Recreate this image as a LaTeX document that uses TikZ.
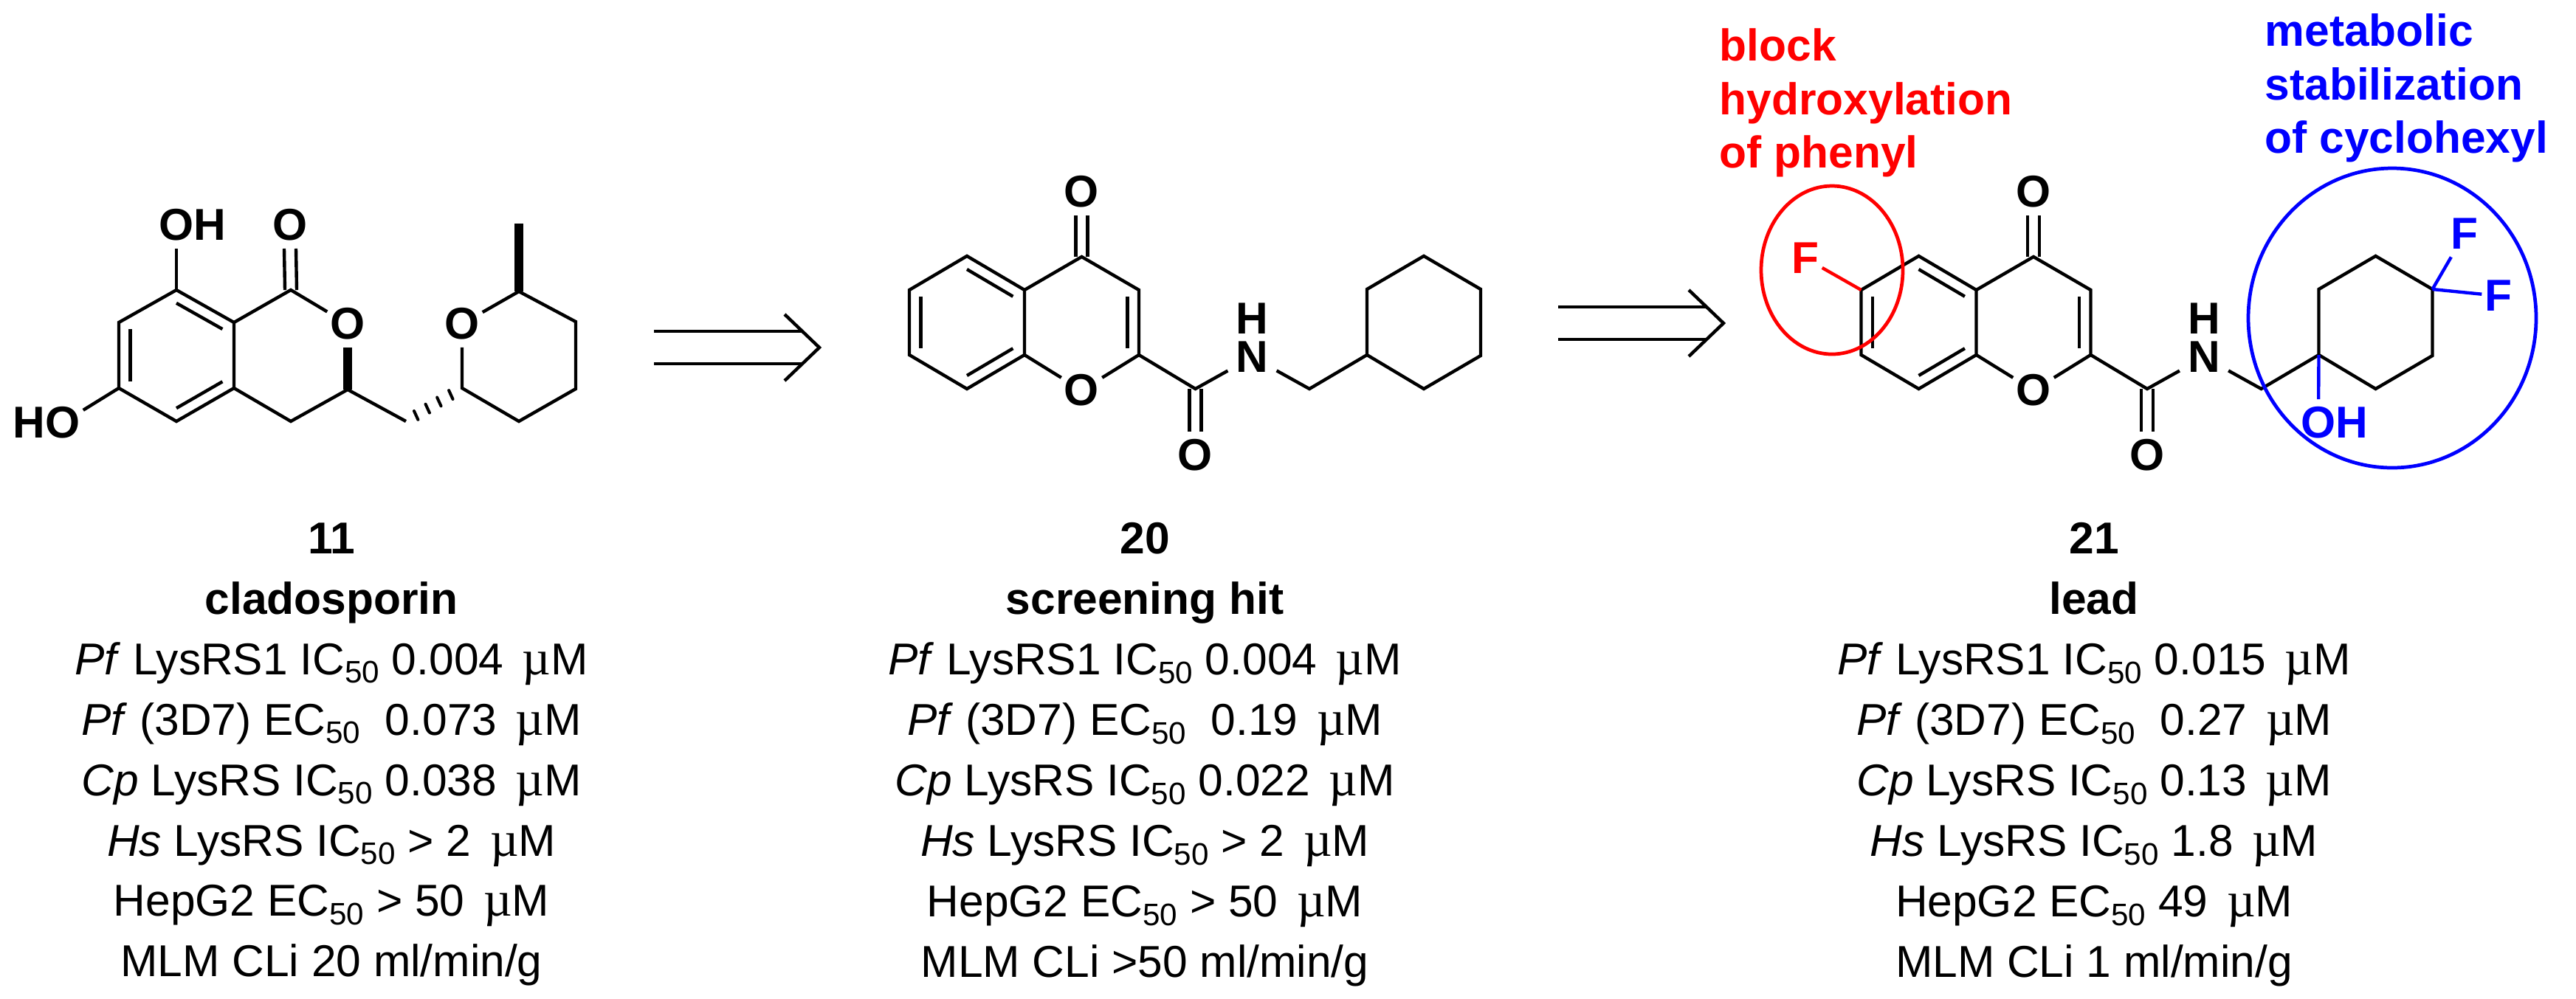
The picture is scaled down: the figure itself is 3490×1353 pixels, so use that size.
\documentclass[tikz,border=0pt]{standalone}
\usepackage{fontspec}
\setmainfont{Liberation Sans}
\newfontfamily\muserif{Liberation Serif}
\usetikzlibrary{calc}
\newcommand{\lowfifty}{\raisebox{-3.3pt}{\fontsize{12}{12}\selectfont 50}}
\newcommand{\muM}{\kern2.5pt{\muserif\fontsize{19}{19}\selectfont µ}M}
\newcommand{\innerbond}[3]{\draw[bond] ($(#1)!.2!(#3)$) -- ($(#2)!.2!(#3)$);}
\newcommand{\doublebond}[2]{
  \draw[bond] ($(#1)+(-8,0)$) -- ($(#2.south)+(-8,0)$);
  \draw[bond] ($(#1)+(8,0)$) -- ($(#2.south)+(8,0)$);
}
\newcommand{\doublebonddown}[2]{
  \draw[bond] ($(#1)+(-8,0)$) -- ($(#2.north)+(-8,0)$);
  \draw[bond] ($(#1)+(8,0)$) -- ($(#2.north)+(8,0)$);
}
\newcommand{\retroarrow}{
  \coordinate (tip) at (1110,471);
  \coordinate (headup) at (1063,426);
  \coordinate (headdown) at (1063,516);
  \coordinate (shaftup) at (886,449);
  \coordinate (shaftupend) at (1086,449);
  \coordinate (shaftdown) at (886,493);
  \coordinate (shaftdownend) at (1086,493);
  \draw[bond] (headup) -- (tip) -- (headdown);
  \draw[bond] (shaftup) -- (shaftupend);
  \draw[bond] (shaftdown) -- (shaftdownend);
}
\newcommand{\chromoneamide}{
  \coordinate (c5) at (1232,393);
  \coordinate (c6) at (1310,347);
  \coordinate (c4a) at (1388,393);
  \coordinate (c8a) at (1388,481);
  \coordinate (c8) at (1310,527);
  \coordinate (c7) at (1232,481);
  \coordinate (c4) at (1465.5,348);
  \coordinate (c3) at (1543,393);
  \coordinate (c2) at (1543,481);
  \coordinate (camide) at (1619.5,527);
  \coordinate (cmethyl) at (1774,527);
  \coordinate (chex1) at (1852,481);
  \coordinate (chex2) at (1852,392);
  \coordinate (chex3) at (1929,347);
  \coordinate (chex4) at (2006,392);
  \coordinate (chex5) at (2006,482);
  \coordinate (chex6) at (1929,527);
  \coordinate (benzc) at (1310,437);
  \coordinate (pyrc) at (1465.5,437);
  \node[atom] (oketo) at (1465.5,260) {O};
  \node[atom] (oring) at (1465.5,529) {O};
  \node[atom] (oamide) at (1619.5,617) {O};
  \node[atom,inner xsep=3pt] (namide) at (1696.5,484) {\smash{\rlap{\raisebox{14.8pt}{H}}}N};
  \draw[bond] (c5) -- (c6) -- (c4a) -- (c8a) -- (c8) -- (c7) -- cycle;
  \draw[bond] (c4a) -- (c4) -- (c3) -- (c2) -- (camide) -- (namide);
  \draw[bond] (c8a) -- (oring);
  \draw[bond] (c2) -- (oring);
  \draw[bond] (namide) -- (cmethyl) -- (chex1);
  \draw[bond] (chex1) -- (chex2) -- (chex3) -- (chex4) -- (chex5) -- (chex6) -- cycle;
  \innerbond{c6}{c4a}{benzc}
  \innerbond{c5}{c7}{benzc}
  \innerbond{c8a}{c8}{benzc}
  \innerbond{c3}{c2}{pyrc}
  \doublebond{c4}{oketo}
  \doublebonddown{camide}{oamide}
}
\tikzset{
  bond/.style={line width=1.25pt},
  boldbond/.style={line width=3.4pt},
  hashbond/.style={line width=1.15pt,line cap=round},
  atom/.style={font=\fontsize{17.2}{20}\selectfont\bfseries,inner xsep=1pt,inner ysep=2.8pt},
  datatext/.style={font=\fontsize{17.2}{23.3}\selectfont,align=center,inner sep=0pt,anchor=north},
  notetext/.style={font=\fontsize{17.2}{20.66}\selectfont\bfseries,align=left,inner sep=0pt,anchor=north west},
  ringmark/.style={line width=1.35pt}
}
\begin{document}
\begin{tikzpicture}[x=0.01cm,y=-0.01cm]
  \useasboundingbox (0,0) rectangle (3490,1353);

  % cladosporin
  \coordinate (a1) at (239,393);
  \coordinate (a2) at (317,437);
  \coordinate (a3) at (317,526);
  \coordinate (a4) at (239,571);
  \coordinate (a5) at (161,526);
  \coordinate (a6) at (161,437);
  \coordinate (acen) at (239,482);
  \coordinate (lacc) at (394,393);
  \coordinate (lacch) at (471,528);
  \coordinate (lacct) at (394,571);
  \coordinate (link) at (550,571);
  \coordinate (py1) at (626,526);
  \coordinate (py2) at (703,571);
  \coordinate (py3) at (780,527);
  \coordinate (py4) at (780,436);
  \coordinate (py5) at (703,395);
  \coordinate (methyl) at (703,303);
  \node[atom] (ohtop) at (239,305) {O\rlap{H}};
  \node[atom] (ocarb) at (393,305) {O};
  \node[atom] (olac) at (471,439) {O};
  \node[atom] (ohlow) at (85,573) {\llap{H}O};
  \node[atom] (opy) at (626,439) {O};
  \draw[bond] (a1) -- (a2) -- (a3) -- (a4) -- (a5) -- (a6) -- cycle;
  \innerbond{a1}{a2}{acen}
  \innerbond{a3}{a4}{acen}
  \innerbond{a5}{a6}{acen}
  \draw[bond] (a1) -- (ohtop);
  \draw[bond] (a5) -- (ohlow);
  \draw[bond] (a2) -- (lacc) -- (olac);
  \doublebond{lacc}{ocarb}
  \draw[bond] (a3) -- (lacct) -- (lacch) -- (link);
  \draw[boldbond] (lacch) -- (olac);
  \foreach \t in {.2,.41,.615,.82}
    \draw[hashbond] ($(py1)!\t!(link)+(-2.7,-5.9)$) -- ($(py1)!\t!(link)+(2.7,5.9)$);
  \draw[bond] (opy) -- (py1) -- (py2) -- (py3) -- (py4) -- (py5) -- (opy);
  \draw[boldbond] (py5) -- (methyl);

  \retroarrow
  \begin{scope}[shift={(1225,-33)},name prefix=second-]
    \retroarrow
  \end{scope}

  % screening hit
  \chromoneamide

  % lead
  \begin{scope}[shift={(1289.5,0)},name prefix=lead-]
    \chromoneamide
  \end{scope}
  \node[atom,red] (fphenyl) at (2446,350) {F};
  \draw[bond,red] (lead-c5) -- (fphenyl);
  \node[atom,blue] (fup) at (3339,317) {F};
  \node[atom,blue] (fright) at (3385,401) {F};
  \node[atom,blue] (ohblue) at (3141,573) {O\rlap{H}};
  \draw[bond,blue] (lead-chex4) -- (fup);
  \draw[bond,blue] (lead-chex4) -- (fright);
  \draw[bond,blue] (lead-chex1) -- (ohblue);
  \draw[ringmark,red] (2482,366) ellipse (96 and 114);
  \draw[ringmark,blue] (3241,431) ellipse (195 and 203);
  \node[notetext,red] (noteblock) at (2329,38) {block\\hydroxylation\\of phenyl};
  \node[notetext,blue] (notemetab) at (3068,18) {metabolic\\stabilization\\of cyclohexyl};

  % data under the structures
  \node[datatext] (data11) at (449,708) {\textbf{11}\\\textbf{cladosporin}\\
    \textit{Pf} LysRS1 IC\lowfifty{} 0.004 \muM\\
    \textit{Pf} (3D7) EC\lowfifty{}~ 0.073 \muM\\
    \textit{Cp} LysRS IC\lowfifty{} 0.038 \muM\\
    \textit{Hs} LysRS IC\lowfifty{} > 2 \muM\\
    HepG2 EC\lowfifty{} > 50 \muM\\
    MLM CLi 20 ml/min/g};
  \node[datatext] (data20) at (1551,708) {\textbf{20}\\\textbf{screening hit}\\
    \textit{Pf} LysRS1 IC\lowfifty{} 0.004 \muM\\
    \textit{Pf} (3D7) EC\lowfifty{}~ 0.19 \muM\\
    \textit{Cp} LysRS IC\lowfifty{} 0.022 \muM\\
    \textit{Hs} LysRS IC\lowfifty{} > 2 \muM\\
    HepG2 EC\lowfifty{} > 50 \muM\\
    MLM CLi >50 ml/min/g};
  \node[datatext] (data21) at (2837,708) {\textbf{21}\\\textbf{lead}\\
    \textit{Pf} LysRS1 IC\lowfifty{} 0.015 \muM\\
    \textit{Pf} (3D7) EC\lowfifty{}~ 0.27 \muM\\
    \textit{Cp} LysRS IC\lowfifty{} 0.13 \muM\\
    \textit{Hs} LysRS IC\lowfifty{} 1.8 \muM\\
    HepG2 EC\lowfifty{} 49 \muM\\
    MLM CLi 1 ml/min/g};
\end{tikzpicture}
\end{document}
